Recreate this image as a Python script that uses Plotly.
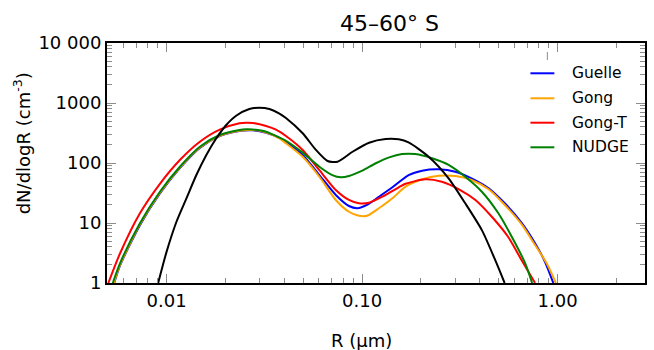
import math
import plotly.graph_objects as go

# ---------------- data ----------------
R_obs = [0.00906, 0.0100, 0.01124, 0.01264, 0.01421, 0.01598, 0.01797, 0.0202, 0.0227, 0.0265,
         0.0298, 0.0336, 0.0378, 0.0408, 0.0497, 0.0581, 0.0666, 0.0749, 0.0894, 0.1086,
         0.132, 0.154, 0.173, 0.219, 0.277, 0.337, 0.410, 0.480, 0.536]
N_obs = [1, 3.3, 10.5, 25.8, 63, 136, 258, 430, 614, 794,
         835, 794, 667, 562, 313, 165, 108, 105, 154, 218,
         251, 248, 220, 127, 55.6, 21.3, 7.6, 2.4, 1]

R_guelle = [0.00540, 0.00578, 0.00731, 0.00925, 0.0117, 0.0148, 0.0187, 0.0236, 0.0276, 0.0323,
            0.0378, 0.0408, 0.0497, 0.0605, 0.0734, 0.0857, 0.0947, 0.106, 0.122, 0.143,
            0.173, 0.203, 0.247, 0.300, 0.363, 0.444, 0.537, 0.658, 0.767, 0.862, 0.951]
N_guelle = [1, 1.95, 9.2, 31, 82, 178, 280, 340, 350, 318,
            262, 226, 136, 63, 29.3, 19.2, 17.6, 20, 27.4, 39.4,
            63, 74.5, 78.5, 71.6, 55.6, 37.9, 21.3, 9.9, 4.6, 2.26, 1]

R_gong = [0.00538, 0.00578, 0.00731, 0.00925, 0.0117, 0.0148, 0.0187, 0.0236, 0.0276, 0.0323,
          0.0378, 0.0408, 0.0497, 0.0605, 0.0734, 0.0857, 0.0964, 0.106, 0.122, 0.143,
          0.167, 0.203, 0.247, 0.300, 0.363, 0.444, 0.537, 0.658, 0.767, 0.879, 0.98]
N_gong = [1, 2.0, 9.5, 32, 84, 181, 284, 345, 355, 322,
          258, 213, 127, 59, 24.2, 15.4, 13.2, 13.2, 17.6, 25.8,
          40.3, 53.5, 61.4, 60.7, 52.1, 36.5, 20, 9.3, 4.3, 2.13, 1]

R_gongt = [0.00504, 0.00578, 0.00731, 0.00925, 0.0117, 0.0148, 0.0187, 0.0236, 0.0256,
           0.0276, 0.0323, 0.0363, 0.0408, 0.0497, 0.0605, 0.0734, 0.0857, 0.0964, 0.1086,
           0.127, 0.148, 0.167, 0.210, 0.256, 0.313, 0.380, 0.461, 0.558, 0.655, 0.767]
N_gongt = [1, 3.1, 14.5, 45, 112, 226, 360, 459, 470,
           465, 414, 360, 282, 165, 76, 35.5, 24.2, 21.3, 21.8,
           27.4, 36.5, 45, 53.5, 48.7, 36.5, 24.2, 12.7, 5.9, 2.4, 1]

R_nudge = [0.00531, 0.00578, 0.00731, 0.00925, 0.0117, 0.0148, 0.0187, 0.0236, 0.0256,
           0.0276, 0.0323, 0.0370, 0.0408, 0.0497, 0.0605, 0.0704, 0.0780, 0.0857, 0.1003,
           0.1176, 0.1376, 0.160, 0.187, 0.228, 0.277, 0.337, 0.410, 0.498, 0.583,
           0.683, 0.741]
N_nudge = [1, 2.13, 9.9, 33.2, 86.7, 187, 293, 355, 365,
           362, 332, 274, 235, 149, 86.7, 63, 57.7, 60.7, 74.5,
           99, 124, 141, 141, 120, 93, 59, 33.2, 14.5, 5.9,
           2.13, 1]

series_names = ["Guelle", "Gong", "Gong-T", "NUDGE"]
series_colors = ["#0000ff", "#ffa500", "#ff0000", "#008000"]

x_tickvals = [0.01, 0.1, 1.0]
x_ticktext = ["0.01", "0.10", "1.00"]
y_tickvals = [1, 10, 100, 1000, 10000]
y_ticktext = ["1", "10", "100", "1000", "10 000"]

title_text = "45–60° S"
xlabel = "R (μm)"
ylabel = "dN/dlogR (cm<sup>-3</sup>)"

# ---------------- layout geometry ----------------
W, H = 654, 350
ML, MR, MT, MB = 107, 7, 43, 67
PW, PH = W - ML - MR, H - MT - MB
FONT = "DejaVu Sans"


def px(x):
    return (x - ML) / PW


def py(y):
    return (H - MB - y) / PH


fig = go.Figure()
model_data = [(R_guelle, N_guelle), (R_gong, N_gong), (R_gongt, N_gongt), (R_nudge, N_nudge)]
for (rx, ny), name, col in zip(model_data, series_names, series_colors):
    fig.add_trace(go.Scatter(x=rx, y=ny, mode="lines", name=name,
                             line=dict(color=col, width=2, shape="spline", smoothing=0.7),
                             showlegend=False))
fig.add_trace(go.Scatter(x=R_obs, y=N_obs, mode="lines", name="obs",
                         line=dict(color="black", width=2, shape="spline", smoothing=0.7),
                         showlegend=False))

x_minor = [m * 10 ** e for e in (-3, -2, -1, 0) for m in range(2, 10)]
y_minor = [m * 10 ** e for e in (0, 1, 2, 3) for m in range(2, 10)]

axis_common = dict(showgrid=False, zeroline=False, showline=True, linecolor="black",
                   linewidth=2, mirror="allticks", ticks="inside", ticklen=9,
                   tickwidth=1, tickcolor="#8c8c8c",
                   tickfont=dict(family=FONT, size=18, color="black"))

fig.update_xaxes(type="log", range=[math.log10(0.00496), math.log10(2.8)],
                 tickmode="array", tickvals=x_tickvals, ticktext=x_ticktext,
                 minor=dict(tickmode="array", tickvals=x_minor, ticks="inside",
                            ticklen=5, tickcolor="#8c8c8c", tickwidth=1, showgrid=False),
                 **axis_common)
fig.update_yaxes(type="log", range=[0, 4],
                 tickmode="array", tickvals=y_tickvals, ticktext=y_ticktext,
                 minor=dict(tickmode="array", tickvals=y_minor, ticks="inside",
                            ticklen=5, tickcolor="#8c8c8c", tickwidth=1, showgrid=False),
                 **axis_common)

annotations = [
    dict(text=title_text, x=px(391), y=py(23), xref="paper", yref="paper",
         xanchor="center", yanchor="middle", showarrow=False,
         font=dict(family=FONT, size=22, color="black")),
    dict(text=xlabel, x=px(362), y=py(340), xref="paper", yref="paper",
         xanchor="center", yanchor="middle", showarrow=False,
         font=dict(family=FONT, size=18, color="black")),
    dict(text=ylabel, x=px(22), y=py(143), xref="paper", yref="paper",
         xanchor="center", yanchor="middle", showarrow=False, textangle=-90,
         font=dict(family=FONT, size=18, color="black")),
]
shapes = [dict(type="line", xref="paper", yref="paper", x0=px(549), x1=px(549),
               y0=py(52), y1=py(60), line=dict(color="#8c8c8c", width=1))]

legend_y = [73.3, 98.3, 122.7, 147.3]
for name, col, ly in zip(series_names, series_colors, legend_y):
    shapes.append(dict(type="line", xref="paper", yref="paper", x0=px(532), x1=px(556),
                       y0=py(ly), y1=py(ly), line=dict(color=col, width=2)))
    annotations.append(dict(text=name, x=px(572), y=py(ly), xref="paper", yref="paper",
                            xanchor="left", yanchor="middle", showarrow=False,
                            font=dict(family=FONT, size=15.5, color="black")))

fig.update_layout(width=W, height=H, margin=dict(l=ML, r=MR, t=MT, b=MB),
                  plot_bgcolor="white", paper_bgcolor="white",
                  annotations=annotations, shapes=shapes, showlegend=False,
                  font=dict(family=FONT))

fig.write_html("out.html")
